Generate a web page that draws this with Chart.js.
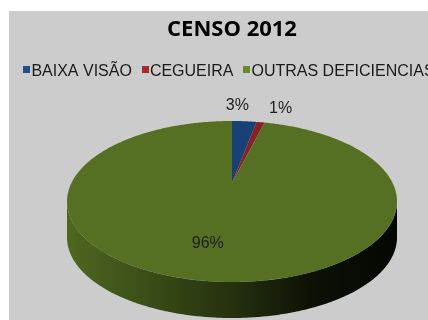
<!DOCTYPE html>
<html>
<head>
<meta charset="utf-8">
<script src="https://cdn.jsdelivr.net/npm/chart.js@4.4.1/dist/chart.umd.min.js"></script>
<style>
  html, body { margin: 0; padding: 0; background: #fff; }
  #box { position: absolute; left: 9px; top: 11px; width: 419px; height: 309px; overflow: hidden; background: #cccccc; }
  #censo { display: block; }
</style>
</head>
<body>
<div id="box"><canvas id="censo" width="446" height="309"></canvas></div>
<script>
const categories = ['BAIXA VISÃO', 'CEGUEIRA', 'OUTRAS DEFICIENCIAS'];
const percentages = [3, 1, 96];
const sliceColors = ['#1f4f8f', '#a52a2a', '#68892a'];

// multiply an #rrggbb colour by f
function shade(hex, f) {
  const n = parseInt(hex.slice(1), 16);
  const r = Math.round(((n >> 16) & 255) * f);
  const g = Math.round(((n >> 8) & 255) * f);
  const b = Math.round((n & 255) * f);
  return 'rgb(' + r + ',' + g + ',' + b + ')';
}

// draws the pie as a tilted disc with a side wall, in place of the flat arcs
const pie3d = {
  id: 'pie3d',
  beforeDatasetsDraw(chart, args, opts) {
    const ctx = chart.ctx;
    const area = chart.chartArea;
    const p = opts.perspective;
    const q = Math.sqrt(1 - p * p);
    const Rx = (area.right - area.left) / 2;
    const A = Rx * q;
    const H = area.bottom - opts.depth - area.top;
    const B = H * (1 - p * p) / 2;
    const cx = (area.left + area.right) / 2;
    const cy = area.top + B / (1 + p);
    const proj = (a, r) => {
      const u = r * Math.cos(a), v = r * Math.sin(a), w = 1 - p * v;
      return [cx + A * u / w, cy + B * v / w];
    };
    chart.$proj = proj;

    const arcs = chart.getDatasetMeta(0).data;
    const colors = chart.data.datasets[0].backgroundColor;
    const a1 = Math.asin(p), a2 = Math.PI - a1;

    ctx.save();
    // side wall, only the front half of the rim shows
    arcs.forEach((arc, i) => {
      const s = arc.startAngle, e = arc.endAngle;
      const grad = ctx.createLinearGradient(cx - Rx, 0, cx + Rx, 0);
      opts.sideStops.forEach(st => grad.addColorStop(st[0], shade(colors[i], st[1])));
      for (let k = -1; k <= 1; k++) {
        const lo = Math.max(s, a1 + 2 * Math.PI * k);
        const hi = Math.min(e, a2 + 2 * Math.PI * k);
        if (hi <= lo) continue;
        const n = Math.max(2, Math.ceil((hi - lo) / 0.01));
        ctx.beginPath();
        for (let j = 0; j <= n; j++) {
          const pt = proj(lo + (hi - lo) * j / n, 1);
          j ? ctx.lineTo(pt[0], pt[1]) : ctx.moveTo(pt[0], pt[1]);
        }
        for (let j = n; j >= 0; j--) {
          const pt = proj(lo + (hi - lo) * j / n, 1);
          ctx.lineTo(pt[0], pt[1] + opts.depth);
        }
        ctx.closePath();
        ctx.fillStyle = grad;
        ctx.fill();
      }
    });

    // top face
    arcs.forEach((arc, i) => {
      const s = arc.startAngle, e = arc.endAngle;
      const n = Math.max(2, Math.ceil((e - s) / 0.01));
      const c = proj(0, 0);
      ctx.beginPath();
      ctx.moveTo(c[0], c[1]);
      for (let j = 0; j <= n; j++) {
        const pt = proj(s + (e - s) * j / n, 1);
        ctx.lineTo(pt[0], pt[1]);
      }
      ctx.closePath();
      ctx.fillStyle = shade(colors[i], opts.topShade);
      ctx.fill();
    });
    ctx.restore();
    return false;
  },
  afterDraw(chart, args, opts) {
    const proj = chart.$proj;
    if (!proj) return;
    const ctx = chart.ctx;
    const data = chart.data.datasets[0].data;
    const total = data.reduce((a, b) => a + b, 0);
    ctx.save();
    ctx.font = opts.labelFont;
    ctx.fillStyle = opts.labelColor;
    ctx.textAlign = 'center';
    ctx.textBaseline = 'middle';
    chart.getDatasetMeta(0).data.forEach((arc, i) => {
      const frac = data[i] / total;
      const mid = (arc.startAngle + arc.endAngle) / 2;
      const pt = proj(mid, frac < 0.1 ? opts.outside : opts.inside);
      const nudge = opts.nudge[i] || [0, 0];
      ctx.fillText(Math.round(frac * 100) + '%', pt[0] + nudge[0], pt[1] + nudge[1]);
    });
    ctx.restore();
  }
};

// single-row legend with small square markers
const legendRow = {
  id: 'legendRow',
  afterDraw(chart, args, opts) {
    const ctx = chart.ctx;
    ctx.save();
    ctx.font = opts.size + 'px ' + opts.family;
    const items = chart.data.labels.map((t, i) => ({
      t: t, c: chart.data.datasets[0].backgroundColor[i], w: ctx.measureText(t).width
    }));
    const total = items.reduce((s, it) => s + opts.box + opts.gap + it.w, 0) + opts.spacing * (items.length - 1);
    let x = chart.width / 2 - total / 2 + opts.shift;
    ctx.textBaseline = 'alphabetic';
    items.forEach(it => {
      ctx.fillStyle = it.c;
      ctx.fillRect(Math.round(x), opts.boxTop, opts.box, opts.box);
      x += opts.box + opts.gap;
      ctx.fillStyle = opts.color;
      ctx.fillText(it.t, x, opts.baseline);
      x += it.w + opts.spacing;
    });
    ctx.restore();
  }
};

new Chart(document.getElementById('censo'), {
  type: 'pie',
  data: {
    labels: categories,
    datasets: [{
      data: percentages,
      backgroundColor: sliceColors,
      borderWidth: 0
    }]
  },
  options: {
    responsive: false,
    animation: false,
    events: [],
    layout: { padding: { left: 58, right: 58, top: 0, bottom: 2 } },
    plugins: {
      legend: { display: false },
      tooltip: { enabled: false },
      title: {
        display: true,
        text: 'CENSO 2012',
        color: '#000',
        font: { family: 'Open Sans', size: 22, weight: 'bold' },
        padding: { top: 6, bottom: 77.6 }
      },
      pie3d: {
        perspective: 0.23,
        depth: 36,
        topShade: 0.82,
        sideStops: [[0, 0.75], [0.2, 0.6], [0.5, 0.36], [0.75, 0.12], [1, 0.05]],
        labelFont: '16px "Liberation Sans", Arial, sans-serif',
        labelColor: '#1e1e1e',
        inside: 0.68,
        outside: 1.32,
        nudge: [[-10, 0], [13, 1], [-8, 0]]
      },
      legendRow: {
        family: '"Liberation Sans", Arial, sans-serif',
        size: 16,
        color: '#1a1a1a',
        box: 7,
        gap: 1,
        spacing: 10,
        shift: -3,
        boxTop: 55,
        baseline: 64.5
      }
    }
  },
  plugins: [pie3d, legendRow]
});
</script>
</body>
</html>
